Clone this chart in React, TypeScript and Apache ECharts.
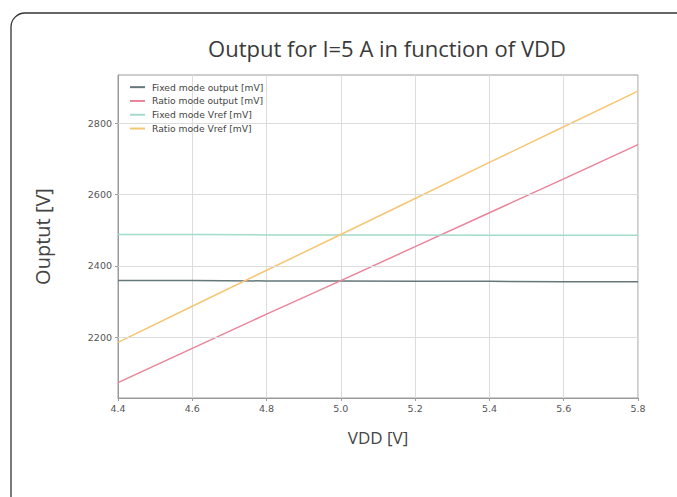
import React, { useEffect, useRef } from "react";
import * as echarts from "echarts";

// Supply voltage samples [V]
const vdd = [4.4, 4.6, 4.8, 5.0, 5.2, 5.4, 5.6, 5.8];

// Measured / computed outputs [mV]
const fixedOutput = [2359, 2359, 2358, 2358, 2357, 2357, 2356, 2356];
const ratioOutput = [2073, 2169, 2265, 2359, 2454, 2549, 2644, 2740];
const fixedVref = [2488, 2488, 2487, 2487, 2487, 2486, 2486, 2486];
const ratioVref = [2186, 2287, 2388, 2488, 2589, 2690, 2790, 2890];

const yTicks = [2200, 2400, 2600, 2800];
const xTicks = [4.4, 4.6, 4.8, 5.0, 5.2, 5.4, 5.6, 5.8];

const seriesNames = [
  "Fixed mode output [mV]",
  "Ratio mode output [mV]",
  "Fixed mode Vref [mV]",
  "Ratio mode Vref [mV]",
];
const seriesColors = ["#66777a", "#e9849a", "#a3dcc8", "#f5c673"];

export default function App() {
  const ref = useRef<HTMLDivElement>(null);

  useEffect(() => {
    if (!ref.current) return;
    const chart = echarts.init(ref.current, undefined, { renderer: "svg" });
    const values = [fixedOutput, ratioOutput, fixedVref, ratioVref];
    const tickFont = { fontFamily: "DejaVu Sans", fontSize: 9.5, color: "#555" };

    chart.setOption({
      animation: false,
      backgroundColor: "#fff",
      title: {
        text: "Output for I=5 A in function of VDD",
        left: 382,
        top: 32,
        textAlign: "center",
        textStyle: {
          fontFamily: "Open Sans",
          fontSize: 22,
          fontWeight: "normal",
          color: "#3a3a3a",
        },
      },
      legend: {
        orient: "vertical",
        left: 126,
        top: 79,
        padding: [2, 4, 2, 4],
        itemGap: 1.5,
        itemWidth: 15,
        itemHeight: 2,
        icon: "rect",
        textStyle: {
          fontFamily: "DejaVu Sans",
          fontSize: 9.2,
          lineHeight: 12.3,
          color: "#444",
          padding: [0, 0, 0, 2],
        },
        data: seriesNames,
      },
      grid: {
        left: 118,
        right: 39,
        top: 75,
        bottom: 99,
        show: true,
        borderColor: "#9a9a9a",
        borderWidth: 1,
      },
      xAxis: {
        type: "value",
        min: 4.4,
        max: 5.8,
        name: "VDD [V]",
        nameLocation: "middle",
        nameGap: 31,
        nameTextStyle: { fontFamily: "Open Sans", fontSize: 17, color: "#444" },
        axisLine: { show: true, lineStyle: { color: "#9a9a9a" } },
        axisTick: {
          show: true,
          length: 3,
          customValues: xTicks,
          lineStyle: { color: "#9a9a9a" },
        },
        axisLabel: {
          ...tickFont,
          margin: 5,
          customValues: xTicks,
          formatter: (v: number) => v.toFixed(1),
        },
        splitLine: { show: true, lineStyle: { color: "#dcdcdc", width: 1 } },
      },
      yAxis: {
        type: "value",
        min: 2030,
        max: 2935,
        name: "Ouptut [V]",
        nameLocation: "middle",
        nameGap: 66,
        nameRotate: 90,
        nameTextStyle: { fontFamily: "Open Sans", fontSize: 20, color: "#444" },
        axisLine: { show: true, lineStyle: { color: "#9a9a9a" } },
        axisTick: {
          show: true,
          length: 3,
          customValues: yTicks,
          lineStyle: { color: "#9a9a9a" },
        },
        axisLabel: {
          ...tickFont,
          margin: 6,
          customValues: yTicks,
          formatter: (v: number) => String(v),
        },
        splitLine: { show: false },
      },
      graphic: [
        {
          type: "rect",
          shape: { x: 11, y: 13, width: 720, height: 540, r: 14 },
          style: { fill: "none", stroke: "#333", lineWidth: 1.3 },
          silent: true,
        },
      ],
      series: [
        ...values.map((vals, i) => ({
          name: seriesNames[i],
          type: "line",
          data: vdd.map((x, j) => [x, vals[j]]),
          showSymbol: false,
          color: seriesColors[i],
          lineStyle: { width: 1.5, color: seriesColors[i] },
          z: 3,
        })),
        {
          name: "grid",
          type: "line",
          data: [],
          silent: true,
          markLine: {
            silent: true,
            symbol: "none",
            label: { show: false },
            lineStyle: { color: "#dcdcdc", type: "solid", width: 1 },
            data: yTicks.map((v) => ({ yAxis: v })),
          },
          z: 1,
        },
      ],
    });

    return () => chart.dispose();
  }, []);

  return (
    <div
      ref={ref}
      style={{ position: "fixed", left: 0, top: 0, width: 677, height: 497 }}
    />
  );
}
